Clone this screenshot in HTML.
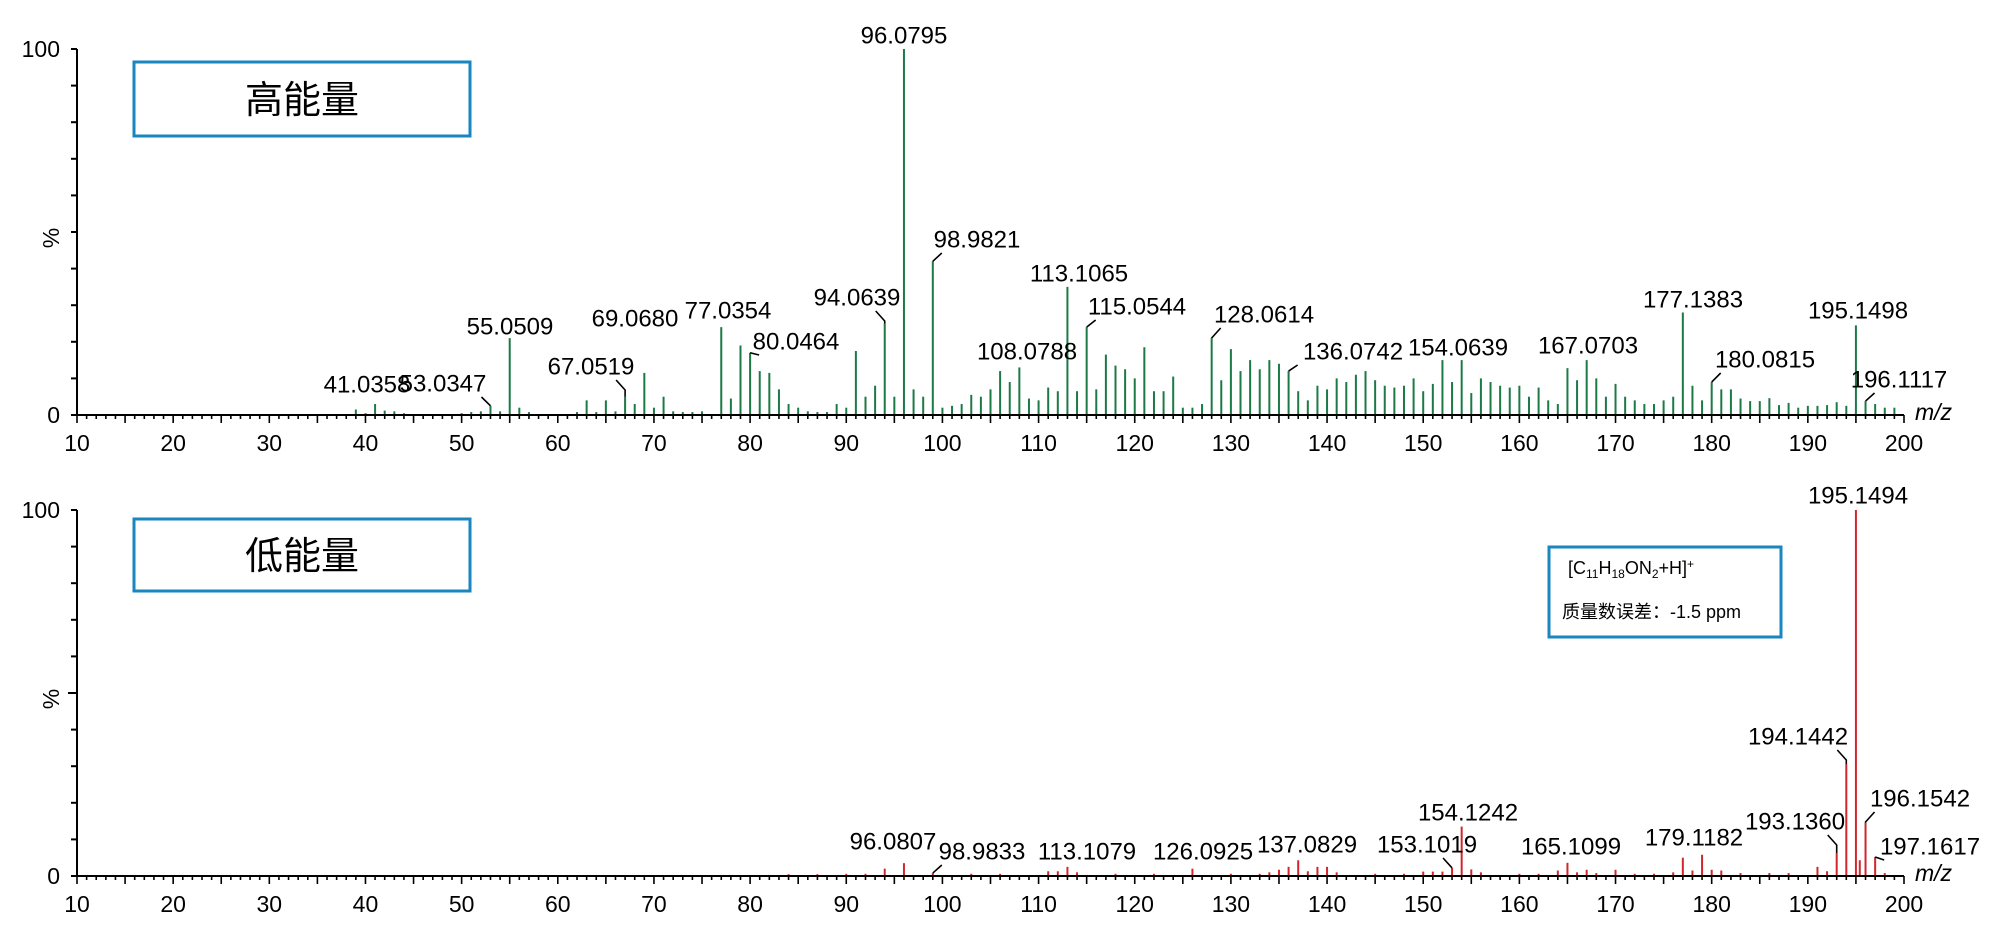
<!DOCTYPE html>
<html><head><meta charset="utf-8">
<style>
html,body{margin:0;padding:0;background:#fff;}
svg{display:block;font-family:"Liberation Sans","Noto Sans CJK SC",sans-serif;}
</style></head>
<body>
<svg id="chart" width="2000" height="943" viewBox="0 0 2000 943" xmlns="http://www.w3.org/2000/svg">
  <g id="top-panel"></g>
  <g id="bot-panel"></g>
  <rect x="134" y="62" width="336" height="74" fill="none" stroke="#1a86c0" stroke-width="3"/>
  <text x="302" y="113" font-size="38" text-anchor="middle" fill="#000">高能量</text>
  <rect x="134" y="519" width="336" height="72" fill="none" stroke="#1a86c0" stroke-width="3"/>
  <text x="302" y="569" font-size="38" text-anchor="middle" fill="#000">低能量</text>
  <rect x="1549" y="547" width="232" height="90" fill="none" stroke="#1a86c0" stroke-width="3"/>
  <text x="1568" y="574" font-size="18" fill="#000">[C<tspan font-size="12" dy="4">11</tspan><tspan dy="-4">H</tspan><tspan font-size="12" dy="4">18</tspan><tspan dy="-4">ON</tspan><tspan font-size="12" dy="4">2</tspan><tspan dy="-4">+H]</tspan><tspan font-size="12" dy="-6">+</tspan></text>
  <text x="1562" y="618" font-size="18" fill="#000">质量数误差：-1.5 ppm</text>
</svg>
<script>
// ---- data ----
const topMz = [39,40,41,42,43,44,50,51,52,53,54,55,56,57,62,63,64,65,66,67,68,69,70,71,72,73,74,75,77,78,79,80,81,82,83,84,85,86,87,88,89,90,91,92,93,94,95,96,97,98,99,100,101,102,103,104,105,106,107,108,109,110,111,112,113,114,115,116,117,118,119,120,121,122,123,124,125,126,127,128,129,130,131,132,133,134,135,136,137,138,139,140,141,142,143,144,145,146,147,148,149,150,151,152,153,154,155,156,157,158,159,160,161,162,163,164,165,166,167,168,169,170,171,172,173,174,175,176,177,178,179,180,181,182,183,184,185,186,187,188,189,190,191,192,193,194,195,196,197,198,199];
const topInt = [1.5,0.5,3,1.2,1,0.5,0.5,0.8,1,2.5,1,21,2,0.8,0.8,4,0.8,4,1,5,3,11.5,2,5,1,0.8,0.8,1,24,4.5,19,17,12,11.5,7,3,2,1,0.8,0.8,3,2,17.5,5,8,25,5,100,7,5,42,2,2.5,3,5.5,5,7,12,9,13,4.5,4,7.5,6.5,35,6.5,24,7,16.5,13.5,12.5,10,18.5,6.5,6.5,10.5,2,2,3,21,9.5,18,12,15,12.5,15,14,12,6.5,4,8,7,10,9,11,12,9.5,8,7.5,8,10,6.5,8.5,15,9,15,6,10,9,8,7.5,8,5,7.5,4,3,12.8,9.5,15,10,5,8.5,5,4,3,3,4,5,28,8,4,9,7,7,4.5,3.8,3.8,4.6,2.7,3.3,2,2.5,2.5,2.7,3.5,2.5,24.5,3.8,3,2,2];
const topLabelText = ["41.0358","53.0347","55.0509","67.0519","69.0680","77.0354","80.0464","94.0639","96.0795","98.9821","108.0788","113.1065","115.0544","128.0614","136.0742","154.0639","167.0703","177.1383","180.0815","195.1498","196.1117"];
const topLabelMz = [41,53,55,67,69,77,80,94,96,99,108,113,115,128,136,154,167,177,180,195,196];
const topLabelLeader = [0,1,0,1,0,0,1,1,0,1,0,0,1,1,1,0,0,0,1,0,1];
const topLabelPos = [[367,385],[443,384],[510,327],[591,367],[635,319],[728,311],[796,342],[857,298],[904,36],[977,240],[1027,352],[1079,274],[1137,307],[1264,315],[1353,352],[1458,348],[1588,346],[1693,300],[1765,360],[1858,311],[1899,380]];

const botMz = [84,87,90,92,94,96,99,103,106,111,112,113,114,118,122,126,130,133,134,135,136,137,138,139,140,141,145,148,150,151,152,153,154,155,156,160,162,164,165,166,167,168,170,172,174,176,177,178,179,180,181,183,186,188,191,192,193,194,195,195.4,196,197,198];
const botInt = [0.5,0.5,0.6,0.6,2,3.5,0.8,0.6,0.6,1.3,1.3,2.5,1,0.6,0.6,2,0.6,0.6,1,1.7,2.5,4.3,1.3,2.5,2.5,1,0.6,0.6,1.2,1.2,1.2,2.2,13.5,1.8,1,0.6,0.6,1.5,3.6,1,1.7,0.8,1.7,0.6,0.6,1,5,1.5,5.8,1.7,1.5,0.8,0.8,0.8,2.5,1.3,6.3,30.5,100,4.3,14.5,5.2,0.8];
const botLabelText = ["96.0807","98.9833","113.1079","126.0925","137.0829","153.1019","154.1242","165.1099","179.1182","193.1360","194.1442","195.1494","196.1542","197.1617"];
const botLabelMz = [96,99,113,126,137,153,154,165,179,193,194,195,196,197];
const botLabelLeader = [0,1,0,0,0,1,0,0,0,1,1,0,1,1];
const botLabelPos = [[893,842],[982,852],[1087,852],[1203,852],[1307,845],[1427,845],[1468,813],[1571,847],[1694,838],[1795,822],[1798,737],[1858,496],[1920,799],[1930,847]];

const xTickLabels = ["10","20","30","40","50","60","70","80","90","100","110","120","130","140","150","160","170","180","190","200"];
const yTickLabels = ["0","100"];

// ---- layout ----
const X0 = 77, X1 = 1904, MZ0 = 10, MZ1 = 200;
function xs(mz){ return X0 + (mz - MZ0) * (X1 - X0) / (MZ1 - MZ0); }
const NS = "http://www.w3.org/2000/svg";
function mk(tag, attrs, parent){
  const e = document.createElementNS(NS, tag);
  for (const k in attrs) e.setAttribute(k, attrs[k]);
  parent.appendChild(e); return e;
}

function drawPanel(g, base, top, mzs, ints, color, lText, lMz, lLead, lPos, midTick){
  const ys = v => base - v * (base - top) / 100;
  // y axis
  const ya = mk('line', {x1:X0, y1:top, x2:X0, y2:base, stroke:'#000','stroke-width':2}, g);
  
  
  for (let v = 0; v <= 100; v += 10) {
    const len = (v === 50 && midTick) ? 9 : 6;
    const t = mk('line', {x1:X0-len, y1:ys(v), x2:X0, y2:ys(v), stroke:'#000','stroke-width':2}, g);
    
    
  }
  yTickLabels.forEach(s => {
    const t = mk('text', {x:60, y:ys(+s), 'font-size':23, 'text-anchor':'end', 'dominant-baseline':'central', fill:'#000'}, g);
    t.textContent = s;
    
    
  });
  const yt = mk('text', {x:0, y:0, 'font-size':23, 'text-anchor':'middle', 'dominant-baseline':'central', fill:'#000', transform:`translate(51,${(base+top)/2+6}) rotate(-90)`}, g);
  yt.textContent = '%';
  
  
  // bars
  mzs.forEach((m, i) => {
    const b = mk('line', {x1:xs(m), y1:base, x2:xs(m), y2:ys(ints[i]), stroke:color, 'stroke-width':2}, g);
    
    
  });
  // x axis
  const xa = mk('line', {x1:X0, y1:base, x2:X1, y2:base, stroke:'#000','stroke-width':2}, g);
  
  
  for (let m = MZ0; m <= MZ1; m++) {
    const len = (m % 5 === 0) ? 8 : 4;
    const t = mk('line', {x1:xs(m), y1:base, x2:xs(m), y2:base+len, stroke:'#000','stroke-width':1.6}, g);
    
    
  }
  xTickLabels.forEach(s => {
    const t = mk('text', {x:xs(+s), y:base+28, 'font-size':23, 'text-anchor':'middle', 'dominant-baseline':'central', fill:'#000'}, g);
    t.textContent = s;
    
    
  });
  const mz = mk('text', {x:1915, y:base-3, 'font-size':23, 'font-style':'italic', 'dominant-baseline':'central', fill:'#000'}, g);
  mz.textContent = 'm/z';
  
  
  // labels
  lText.forEach((s, i) => {
    const [lx, ly] = lPos[i];
    const t = mk('text', {x:lx, y:ly, 'font-size':24, 'text-anchor':'middle', 'dominant-baseline':'central', fill:'#000'}, g);
    t.textContent = s;
    
    
    if (lLead[i]) {
      const idx = mzs.indexOf(lMz[i]);
      const px = xs(lMz[i]);
      const pt = ys(idx >= 0 ? ints[idx] : 0);
      const sgn = lx > px ? 1 : -1;
      const y1 = ly + 13, y2 = Math.min(ly + 23, pt);
      const l = mk('polyline', {points:`${px+sgn*9},${y1} ${px},${y2} ${px},${Math.max(y2,pt)}`, fill:'none', stroke:'#000', 'stroke-width':1.6}, g);
      
      
    }
  });
}

drawPanel(document.getElementById('top-panel'), 415, 49, topMz, topInt, '#1b7a45', topLabelText, topLabelMz, topLabelLeader, topLabelPos, false);
drawPanel(document.getElementById('bot-panel'), 876, 510, botMz, botInt, '#d1262c', botLabelText, botLabelMz, botLabelLeader, botLabelPos, true);
</script>
</body></html>
